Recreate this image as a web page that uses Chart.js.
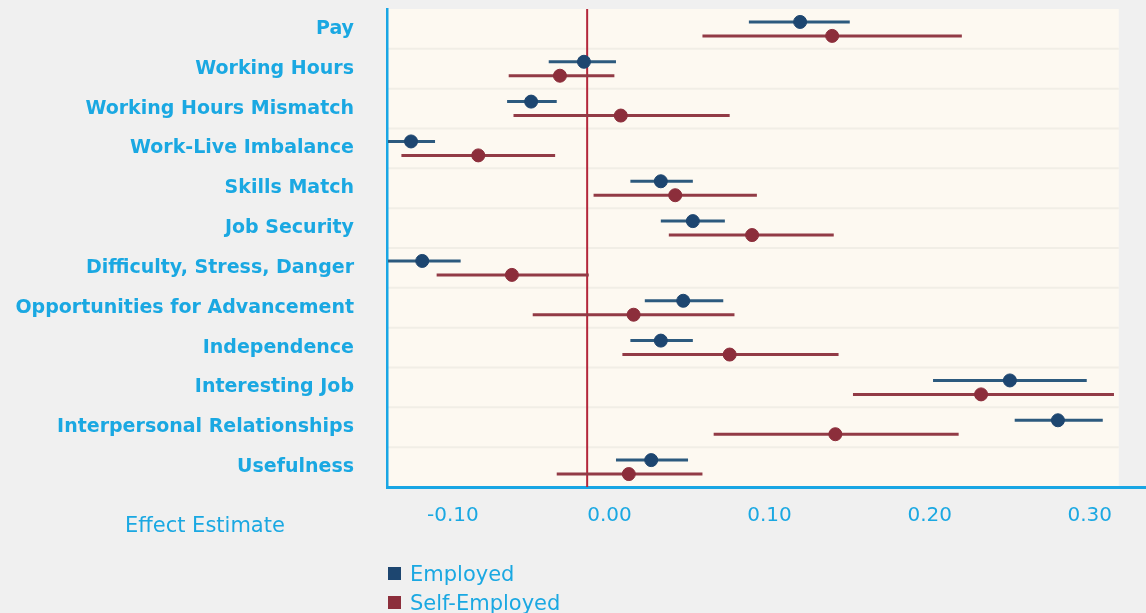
<!DOCTYPE html>
<html><head><meta charset="utf-8">
<script src="https://cdn.jsdelivr.net/npm/chart.js@4.4.1/dist/chart.umd.min.js"></script>
<style>
html,body{margin:0;padding:0;background:#f0f0f0;}
#wrap{position:relative;width:1146px;height:613px;overflow:hidden;}
#c{position:absolute;left:0;top:0;}
#legend{position:absolute;left:388px;top:559px;font-family:'DejaVu Sans';font-size:21px;color:#1aa8e2;}
.item{display:flex;align-items:center;height:29px;}
.sw{width:13px;height:13px;margin-right:9px;}
</style></head>
<body><div id="wrap"><canvas id="c" width="1146" height="613"></canvas><div id="legend"></div></div>
<script>
const categories = ['Pay','Working Hours','Working Hours Mismatch','Work-Live Imbalance','Skills Match','Job Security','Difficulty, Stress, Danger','Opportunities for Advancement','Independence','Interesting Job','Interpersonal Relationships','Usefulness'];
const employedEst  = [0.133, -0.002, -0.035, -0.110, 0.046, 0.066, -0.103, 0.060, 0.046, 0.264, 0.294, 0.040];
const employedLow  = [0.101, -0.024, -0.050, -0.140, 0.027, 0.046, -0.140, 0.036, 0.027, 0.216, 0.267, 0.018];
const employedHigh = [0.164, 0.018, -0.019, -0.095, 0.066, 0.086, -0.079, 0.085, 0.066, 0.312, 0.322, 0.063];
const selfEst  = [0.153, -0.017, 0.021, -0.068, 0.055, 0.103, -0.047, 0.029, 0.089, 0.246, 0.155, 0.026];
const selfLow  = [0.072, -0.049, -0.046, -0.116, 0.004, 0.051, -0.094, -0.034, 0.022, 0.166, 0.079, -0.019];
const selfHigh = [0.234, 0.017, 0.089, -0.020, 0.106, 0.154, 0.001, 0.092, 0.157, 0.329, 0.232, 0.072];
const xTicks = [-0.10, 0.00, 0.10, 0.20, 0.30];
const seriesNames = ['Employed', 'Self-Employed'];
const seriesColors = ['#1d4670', '#8c2e3b'];
const lineColors = ['#2c5a7e', '#923b46'];
const textBlue = '#1aa8e2';

function build(est, lo, hi, off) {
  return categories.map((c, i) => ({x: est[i], y: i + off, lo: lo[i], hi: hi[i]}));
}
function noPad(s) { s.paddingTop = 0; s.paddingBottom = 0; s.paddingLeft = 0; s.paddingRight = 0; }

const bgPlugin = {
  id: 'bg',
  beforeDraw(chart) {
    const {ctx, chartArea: a, scales: {x, y}} = chart;
    const right = x.getPixelForValue(0.332);
    ctx.save();
    ctx.fillStyle = '#fdf9f1';
    ctx.fillRect(a.left, a.top, right - a.left, a.bottom - a.top);
    ctx.strokeStyle = '#f1eee6';
    ctx.lineWidth = 2;
    for (let i = 0; i < categories.length - 1; i++) {
      const py = y.getPixelForValue(i + 0.5);
      ctx.beginPath(); ctx.moveTo(a.left, py); ctx.lineTo(right, py); ctx.stroke();
    }
    ctx.restore();
  },
  beforeDatasetsDraw(chart) {
    const {ctx, chartArea: a, scales: {x, y}} = chart;
    ctx.save();
    ctx.beginPath(); ctx.rect(a.left + 1, a.top, a.right - a.left, a.bottom - a.top); ctx.clip();
    const zx = x.getPixelForValue(0);
    ctx.strokeStyle = '#b3273b'; ctx.lineWidth = 2;
    ctx.beginPath(); ctx.moveTo(zx, a.top); ctx.lineTo(zx, a.bottom); ctx.stroke();
    chart.data.datasets.forEach((ds, di) => {
      ctx.strokeStyle = lineColors[di]; ctx.lineWidth = 3;
      ds.data.forEach(p => {
        const py = y.getPixelForValue(p.y);
        ctx.beginPath();
        ctx.moveTo(x.getPixelForValue(p.lo), py);
        ctx.lineTo(x.getPixelForValue(p.hi), py);
        ctx.stroke();
      });
    });
    ctx.restore();
  },
  afterDraw(chart) {
    const {ctx} = chart;
    ctx.save();
    ctx.fillStyle = textBlue;
    ctx.font = '21px "DejaVu Sans"';
    ctx.textBaseline = 'middle';
    ctx.textAlign = 'left';
    ctx.fillText('Effect Estimate', 125, 527);
    ctx.restore();
  }
};

new Chart(document.getElementById('c'), {
  type: 'scatter',
  data: {
    datasets: [
      {label: seriesNames[0], data: build(employedEst, employedLow, employedHigh, -0.175), backgroundColor: seriesColors[0], borderColor: seriesColors[0], pointRadius: 6.5, pointHoverRadius: 6.5},
      {label: seriesNames[1], data: build(selfEst, selfLow, selfHigh, 0.175), backgroundColor: seriesColors[1], borderColor: seriesColors[1], pointRadius: 6.5, pointHoverRadius: 6.5}
    ]
  },
  options: {
    responsive: false,
    animation: false,
    layout: {autoPadding: false, padding: {top: 9, right: 0, bottom: 0, left: 0}},
    plugins: {legend: {display: false}, tooltip: {enabled: false}},
    scales: {
      x: {
        type: 'linear', min: -0.125, max: 0.349,
        afterBuildTicks: s => { s.ticks = xTicks.map(v => ({value: v})); },
        afterFit: s => { s.height = 126; noPad(s); },
        ticks: {align: 'start', autoSkip: false, maxRotation: 0, color: textBlue, padding: 17,
          font: {family: 'DejaVu Sans', size: 20}, callback: v => Number(v).toFixed(2)},
        grid: {display: false, drawTicks: false},
        border: {display: true, color: '#19a6e4', width: 3}
      },
      y: {
        type: 'linear', min: -0.5, max: 11.5, reverse: true,
        afterBuildTicks: s => { s.ticks = categories.map((c, i) => ({value: i})); },
        afterFit: s => { s.width = 387; noPad(s); },
        ticks: {autoSkip: false, color: textBlue, padding: 33,
          font: {family: 'DejaVu Sans', size: 19, weight: 'bold'}, callback: v => categories[v]},
        grid: {display: false, drawTicks: false},
        border: {display: true, color: '#19a6e4', width: 2.5}
      }
    }
  },
  plugins: [bgPlugin]
});

const leg = document.getElementById('legend');
seriesNames.forEach((n, i) => {
  const d = document.createElement('div'); d.className = 'item';
  const s = document.createElement('span'); s.className = 'sw'; s.style.background = seriesColors[i];
  const t = document.createElement('span'); t.textContent = n;
  d.appendChild(s); d.appendChild(t); leg.appendChild(d);
});
</script>
</body></html>
